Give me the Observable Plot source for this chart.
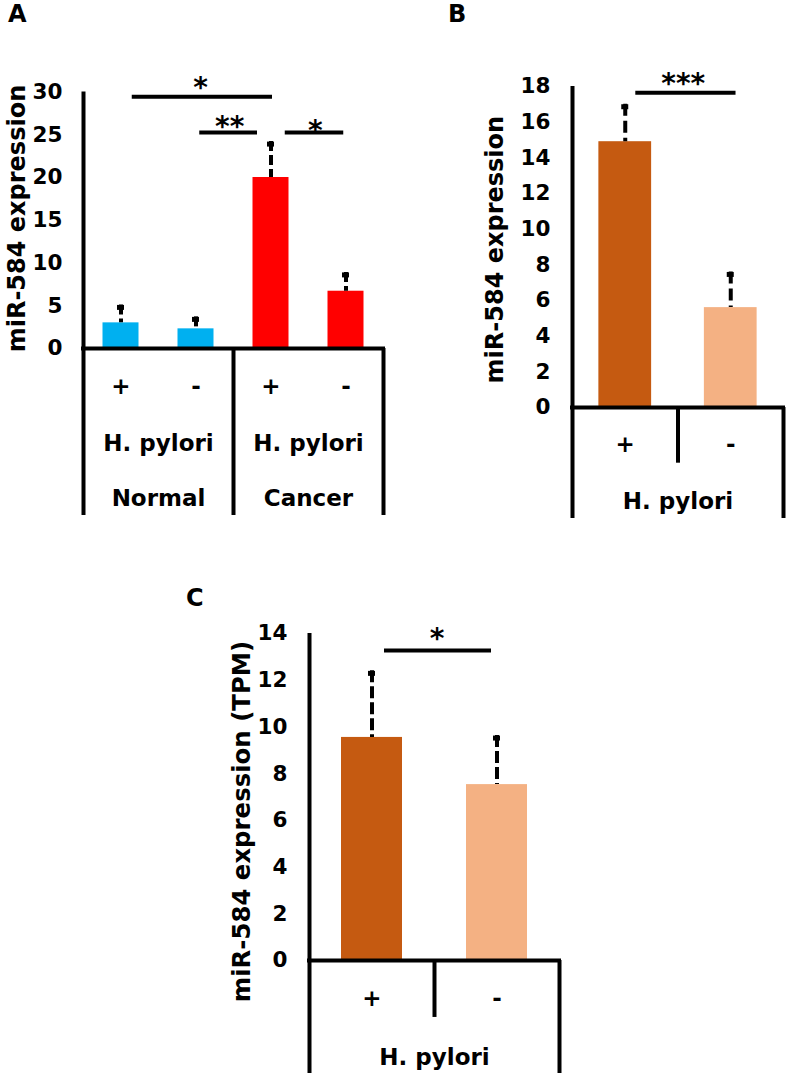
<!DOCTYPE html>
<html>
<head>
<meta charset="utf-8">
<script src="https://cdn.jsdelivr.net/npm/d3@7"></script>
<script src="https://cdn.jsdelivr.net/npm/@observablehq/plot@0.6"></script>
<style>
  html, body { margin: 0; padding: 0; background: #fff; }
  #fig { position: relative; width: 787px; height: 1076px; background: #fff; font-family: "DejaVu Sans", sans-serif; overflow: hidden; }
  .letter { position: absolute; font-family: "DejaVu Sans", sans-serif; font-weight: bold; font-size: 24px; line-height: 24px; color: #000; }
  svg { overflow: visible; }
</style>
</head>
<body>
<div id="fig"></div>
<script>
// ---------- Panel A data ----------
const signsA = ["+", "-", "+", "-"];
const groupsA = ["Normal", "Cancer"];
const factorA = "H. pylori";
const valuesA = [3.0, 2.3, 20.0, 6.7];
const upperA = [5.1, 3.7, 24.2, 8.9];
const ticksA = [0, 5, 10, 15, 20, 25, 30];
const sigA = [
  {from: 0.65, to: 2.52, y: 29.45, label: "*", at: 1.56, ty: 29.4},
  {from: 1.55, to: 2.32, y: 25.25, label: "**", at: 1.95, ty: 24.8},
  {from: 2.69, to: 3.47, y: 25.25, label: "*", at: 3.09, ty: 24.4}
];
const yLabelA = "miR-584 expression";

// ---------- Panel B data ----------
const signsB = ["+", "-"];
const factorB = "H. pylori";
const valuesB = [14.9, 5.6];
const upperB = [17.0, 7.6];
const ticksB = [0, 2, 4, 6, 8, 10, 12, 14, 16, 18];
const sigB = [{from: 0.6, to: 1.55, y: 17.65, label: "***", at: 1.05, ty: 17.65}];
const yLabelB = "miR-584 expression";

// ---------- Panel C data ----------
const signsC = ["+", "-"];
const factorC = "H. pylori";
const valuesC = [9.55, 7.53];
const upperC = [12.4, 9.63];
const ticksC = [0, 2, 4, 6, 8, 10, 12, 14];
const sigC = [{from: 0.6, to: 1.456, y: 13.27, label: "*", at: 1.02, ty: 13.4}];
const yLabelC = "miR-584 expression (TPM)";

// ---------- styles ----------
const colorsA = ["#00B0F0", "#00B0F0", "#FF0000", "#FF0000"];
const colorsBC = ["#C55A11", "#F4B183"];
const FONT = "DejaVu Sans";

function panel(cfg) {
  const n = cfg.values.length;
  const idx = d3.range(n);
  const [ymin, ymax] = cfg.yDomain;
  const marks = [
    Plot.rect(idx, {
      x1: i => i + 0.5 - cfg.hw, x2: i => i + 0.5 + cfg.hw,
      y1: () => 0, y2: i => cfg.values[i],
      fill: i => cfg.colors[i]
    }),
    Plot.ruleX(idx, {
      x: i => i + 0.5, y1: i => cfg.upper[i], y2: i => cfg.values[i],
      stroke: "black", strokeWidth: 4, strokeDasharray: cfg.dash
    }),
    Plot.ruleY(idx, {
      y: i => cfg.upper[i], x1: i => i + 0.5, x2: i => i + 0.5,
      insetLeft: -3.5, insetRight: -3.5, dy: 2.5,
      stroke: "black", strokeWidth: 5
    }),
    Plot.ruleX([0], {y1: () => ymin, y2: () => ymax, stroke: "black", strokeWidth: 4}),
    Plot.ruleY([0], {x1: () => 0, x2: () => n, stroke: "black", strokeWidth: 4, strokeLinecap: "square"}),
    Plot.ruleX([n], {y1: () => ymin, y2: () => 0, stroke: "black", strokeWidth: 4}),
    Plot.ruleX(cfg.dividers, {y1: () => cfg.dividerMin, y2: () => 0, stroke: "black", strokeWidth: 4}),
    Plot.axisY(cfg.ticks, {tickSize: 0, tickPadding: cfg.tickPadding, fontSize: cfg.tickFont, fontWeight: "bold", label: null}),
    Plot.text([cfg.yLabel], {x: () => 0, y: () => cfg.yLabelAt, dx: cfg.yLabelDx, rotate: -90,
      text: d => d, fontSize: cfg.yLabelFont, fontWeight: "bold", fill: "black"}),
    Plot.text(idx, {x: i => i + 0.5, y: () => cfg.signY, text: i => cfg.signs[i],
      fontSize: 23, fontWeight: "bold", fill: "black"}),
    Plot.text(d3.range(cfg.nGroups), {x: g => (g + 0.5) * n / cfg.nGroups, y: () => cfg.factorY,
      text: () => cfg.factor, fontSize: 23, fontWeight: "bold", fill: "black"}),
    Plot.ruleY(cfg.sig, {x1: "from", x2: "to", y: "y", stroke: "black", strokeWidth: 4}),
    Plot.text(cfg.sig, {x: "at", y: "ty", text: "label", lineAnchor: "bottom",
      fontSize: 28, fontWeight: "bold", fill: "black"})
  ];
  if (cfg.groups) {
    marks.push(Plot.text(cfg.groups, {x: (d, g) => (g + 0.5) * n / cfg.groups.length, y: () => cfg.groupY,
      text: d => d, fontSize: 23, fontWeight: "bold", fill: "black"}));
  }
  return Plot.plot({
    width: cfg.width, height: cfg.height,
    marginLeft: cfg.mL, marginRight: cfg.mR, marginTop: cfg.mT, marginBottom: cfg.mB,
    x: {type: "linear", domain: [0, n], axis: null},
    y: {type: "linear", domain: [ymin, ymax]},
    color: {type: "identity"},
    style: {fontFamily: FONT, fontWeight: "bold", color: "black", background: "transparent", overflow: "visible"},
    marks
  });
}

const fig = document.getElementById("fig");
function place(el, left, top) {
  el.style.position = "absolute";
  el.style.left = left + "px";
  el.style.top = top + "px";
  fig.appendChild(el);
}
function letter(t, left, top) {
  const d = document.createElement("div");
  d.className = "letter";
  d.textContent = t;
  d.style.left = left + "px";
  d.style.top = top + "px";
  fig.appendChild(d);
}

place(panel({
  width: 395, height: 520, mL: 83, mR: 12, mT: 91.5, mB: 5,
  yDomain: [-19.53, 30], values: valuesA, upper: upperA, colors: colorsA, hw: 0.24,
  dash: "10,4", ticks: ticksA, tickPadding: 21, tickFont: 21.5,
  yLabel: yLabelA, yLabelAt: 15.2, yLabelDx: -66, yLabelFont: 24,
  dividers: [2], dividerMin: -19.53,
  signs: signsA, signY: -4.44, factor: factorA, factorY: -11.1, nGroups: 2,
  groups: groupsA, groupY: -17.5, sig: sigA
}), 0, 0);

place(panel({
  width: 387, height: 525, mL: 172, mR: 4, mT: 85.9, mB: 7,
  yDomain: [-6.22, 18], values: valuesB, upper: upperB, colors: colorsBC, hw: 0.25,
  dash: "12,5", ticks: ticksB, tickPadding: 22, tickFont: 21.5,
  yLabel: yLabelB, yLabelAt: 8.85, yLabelDx: -77, yLabelFont: 24,
  dividers: [1], dividerMin: -3.12,
  signs: signsB, signY: -2.07, factor: factorB, factorY: -5.25, nGroups: 1,
  groups: null, sig: sigB
}), 400, 0);

place(panel({
  width: 400, height: 496, mL: 129, mR: 21, mT: 53, mB: 3,
  yDomain: [-4.84, 14], values: valuesC, upper: upperC, colors: colorsBC, hw: 0.244,
  dash: "12,4", ticks: ticksC, tickPadding: 22, tickFont: 21.5,
  yLabel: yLabelC, yLabelAt: 5.95, yLabelDx: -67, yLabelFont: 24.4,
  dividers: [1], dividerMin: -2.44,
  signs: signsC, signY: -1.63, factor: factorC, factorY: -4.15, nGroups: 1,
  groups: null, sig: sigC
}), 180, 580);

letter("A", 8, 2);
letter("B", 448, 2);
letter("C", 186, 586);
</script>
</body>
</html>
